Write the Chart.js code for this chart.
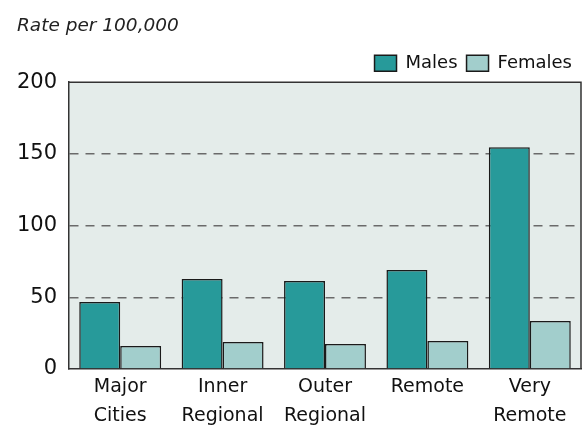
<!DOCTYPE html>
<html>
<head>
<meta charset="utf-8">
<script src="https://cdn.jsdelivr.net/npm/chart.js@4"></script>
<style>
  html, body { margin: 0; padding: 0; background: #fff; }
  #wrap { width: 582px; height: 434px; }
</style>
</head>
<body>
<div id="wrap"><canvas id="chart"></canvas></div>
<script>
const categories = [["Major", "Cities"], ["Inner", "Regional"], ["Outer", "Regional"], ["Remote"], ["Very", "Remote"]];
const males = [46.7, 62.7, 61.3, 69, 154.7];
const females = [16, 18.8, 17.4, 19.5, 33.4];
const yTicks = [0, 50, 100, 150, 200];

const fontFamily = "'DejaVu Sans', sans-serif";

// shaded plot area plus top and right border
const plotFrame = {
  id: "plotFrame",
  beforeDraw(chart) {
    const { ctx, chartArea: a } = chart;
    ctx.save();
    ctx.fillStyle = "#e4ecea";
    ctx.fillRect(a.left, a.top, a.right - a.left, a.bottom - a.top);
    ctx.restore();
  },
  afterDraw(chart) {
    const { ctx, chartArea: a } = chart;
    ctx.save();
    ctx.strokeStyle = "#333";
    ctx.lineWidth = 1.5;
    ctx.beginPath();
    ctx.moveTo(a.left, a.top);
    ctx.lineTo(a.right, a.top);
    ctx.lineTo(a.right, a.bottom);
    ctx.stroke();
    ctx.restore();
  }
};

new Chart(document.getElementById("chart"), {
  type: "bar",
  plugins: [plotFrame],
  data: {
    labels: categories,
    datasets: [
      { label: "Males", data: males, backgroundColor: "#279a9a", borderColor: "#1a1a1a", borderWidth: 1.5 },
      { label: "Females", data: females, backgroundColor: "#a2cecc", borderColor: "#1a1a1a", borderWidth: 1.5 }
    ]
  },
  options: {
    responsive: true,
    maintainAspectRatio: false,
    animation: false,
    layout: { padding: { left: 17, right: 1, top: 0, bottom: 0 } },
    datasets: { bar: { categoryPercentage: 0.8, barPercentage: 1 } },
    plugins: {
      tooltip: { enabled: false },
      title: {
        display: true,
        text: "Rate per 100,000",
        align: "start",
        color: "#222",
        font: { family: fontFamily, size: 18.5, style: "italic", weight: "normal" },
        padding: { top: 15, bottom: 8 }
      },
      legend: {
        display: true,
        align: "end",
        labels: {
          color: "#111",
          font: { family: fontFamily, size: 18 },
          boxWidth: 22,
          boxHeight: 16,
          padding: 9,
          useBorderRadius: false
        }
      }
    },
    scales: {
      x: {
        grid: { display: false, drawTicks: false },
        border: { display: true, color: "#333", width: 1.5 },
        ticks: { color: "#111", font: { family: fontFamily, size: 19, lineHeight: 1.5 }, maxRotation: 0, autoSkip: false, padding: 4 },
        afterFit(axis) { axis.paddingLeft = 0; axis.paddingRight = 0; }
      },
      y: {
        min: 0,
        max: 200,
        afterBuildTicks(axis) { axis.ticks = yTicks.map(v => ({ value: v })); },
        afterFit(axis) { axis.width = 52; },
        grid: {
          color: (c) => (c.tick.value === 0 || c.tick.value === 200) ? "rgba(0,0,0,0)" : "#6a6a6a",
          lineWidth: 1.5,
          drawTicks: false
        },
        border: { display: true, color: "#333", width: 1.5, dash: [9, 7] },
        ticks: { color: "#111", font: { family: fontFamily, size: 21 }, padding: 12 }
      }
    }
  }
});
</script>
</body>
</html>
